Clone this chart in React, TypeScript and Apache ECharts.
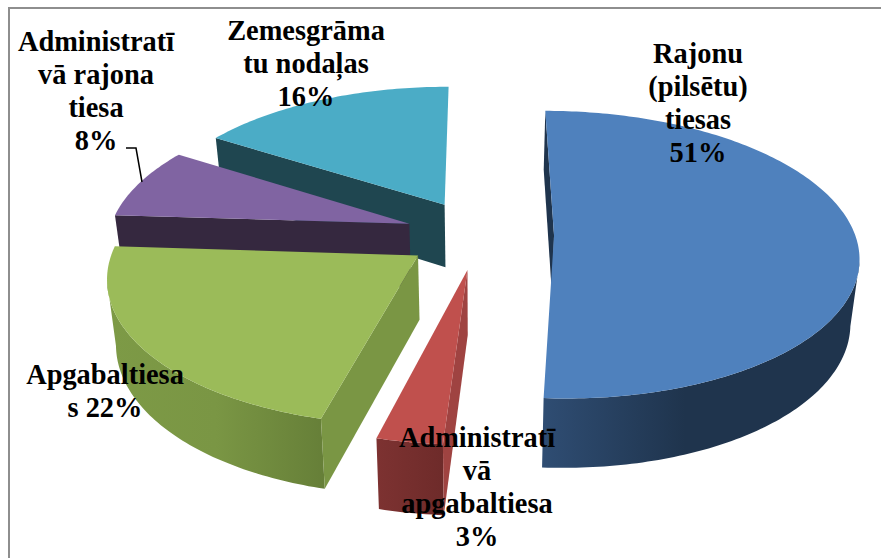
import React, { useEffect, useRef } from "react";
import * as echarts from "echarts";

const sliceNames = [
  "Rajonu\n(pilsētu)\ntiesas",
  "Administratī\nvā\napgabaltiesa",
  "Apgabaltiesa\ns",
  "Administratī\nvā rajona\ntiesa",
  "Zemesgrāma\ntu nodaļas",
];
const sliceValues = [51, 3, 22, 8, 16];
const labelSeparators = ["\n", "\n", " ", "\n", "\n"];
const labelAnchors = [
  [698, 103],
  [477, 486.5],
  [105, 391],
  [96, 91],
  [306, 63],
];
const topColors = ["#4f81bd", "#c0504d", "#9bbb59", "#8064a2", "#4bacc6"];
const radialColors = ["#1f344d", "#9f4341", "#7a9644", "#35283f", "#1f4650"];
const wallStops = [
  [[0, "#2f4d73"], [0.45, "#1f344d"], [1, "#1f344d"]],
  [[0, "#7d3231"], [1, "#6e2b2a"]],
  [[0, "#7d9a46"], [0.5, "#7a9644"], [1, "#667f38"]],
  [[0, "#35283f"], [1, "#35283f"]],
  [[0, "#1f4650"], [1, "#1f4650"]],
];
// drawn from far to near
const drawOrder = [4, 3, 2, 1, 0];

const CX = 479.5;
const CY = 234.5;
const RX = 301;
const RY = 141;
const PERSPECTIVE = 0.1325;
const EXPLODE = 0.2475;
const DEPTH = 63.5;
const BOTTOM_SHRINK = 0.976;

const total = sliceValues.reduce((a, b) => a + b, 0);
const ranges = sliceValues.reduce<[number, number][]>((acc, v) => {
  const start = acc.length ? acc[acc.length - 1][1] : 0;
  acc.push([start, start + (v / total) * Math.PI * 2]);
  return acc;
}, []);

function project(x: number, y: number, z: number): [number, number] {
  const s = 1 / (1 + PERSPECTIVE * y);
  const k = z ? BOTTOM_SHRINK : 1;
  return [CX + RX * x * s * k, CY - RY * y * s * k + DEPTH * z * s];
}

function renderSlice(_params: any, api: any) {
  const idx = api.value(0) as number;
  const [a0, a1] = ranges[idx];
  const mid = (a0 + a1) / 2;
  const ox = EXPLODE * Math.sin(mid);
  const oy = EXPLODE * Math.cos(mid);
  const steps = Math.max(8, Math.round((a1 - a0) * 60));
  const rim: [number, number, number][] = [];
  for (let i = 0; i <= steps; i++) {
    const a = a0 + ((a1 - a0) * i) / steps;
    rim.push([ox + Math.sin(a), oy + Math.cos(a), a]);
  }
  const top = rim.map((p) => project(p[0], p[1], 0));
  const vTop = project(ox, oy, 0);
  const vBottom = project(ox, oy, 1);
  // only the part of the outer wall that faces the camera
  const camY = -1 / PERSPECTIVE;
  const facing = rim.filter(
    (p) => Math.sin(p[2]) * (0 - p[0]) + Math.cos(p[2]) * (camY - p[1]) > 0
  );
  const wallTop = facing.map((p) => project(p[0], p[1], 0));
  const wallBottom = facing.map((p) => project(p[0], p[1], 1));
  const poly = (points: number[][], fill: any) => ({
    type: "polygon",
    shape: { points },
    style: { fill, stroke: null },
    silent: true,
  });
  const children: any[] = [];
  if (facing.length > 1) {
    children.push(
      poly([...wallTop, ...wallBottom.slice().reverse()], {
        type: "linear",
        x: 0,
        y: 0,
        x2: 1,
        y2: 0,
        colorStops: wallStops[idx].map((s) => ({ offset: s[0], color: s[1] })),
      })
    );
  }
  children.push(poly([vTop, top[0], project(rim[0][0], rim[0][1], 1), vBottom], radialColors[idx]));
  children.push(poly([vTop, ...top], topColors[idx]));
  return { type: "group", children };
}

export default function App() {
  const ref = useRef<HTMLDivElement>(null);
  useEffect(() => {
    document.body.style.margin = "0";
    const chart = echarts.init(ref.current!, null, { renderer: "svg" });
    chart.setOption({
      animation: false,
      backgroundColor: "#ffffff",
      series: [
        {
          type: "custom",
          coordinateSystem: "none",
          renderItem: renderSlice,
          data: drawOrder.map((i) => ({ name: sliceNames[i], value: [i, sliceValues[i]] })),
          silent: true,
        },
      ],
      graphic: [
        { type: "line", shape: { x1: 9, y1: 8, x2: 881, y2: 8 }, style: { stroke: "#8e8e8e", lineWidth: 2 }, z: 1 },
        { type: "line", shape: { x1: 9, y1: 7, x2: 9, y2: 558 }, style: { stroke: "#8e8e8e", lineWidth: 2 }, z: 1 },
        {
          type: "polyline",
          shape: { points: [[126, 148], [136, 148], [142, 182]] },
          style: { stroke: "#000000", lineWidth: 1.5, fill: null },
          z: 5,
        },
        ...sliceNames.map((name, i) => ({
          type: "text",
          x: labelAnchors[i][0],
          y: labelAnchors[i][1],
          z: 10,
          style: {
            text: `${name}${labelSeparators[i]}${sliceValues[i]}%`,
            font: 'bold 28.4px "Liberation Serif"',
            lineHeight: 33,
            fill: "#000000",
            align: "center",
            verticalAlign: "middle",
          },
        })),
      ],
    });
    return () => chart.dispose();
  }, []);
  return <div ref={ref} style={{ width: 881, height: 558 }} />;
}
